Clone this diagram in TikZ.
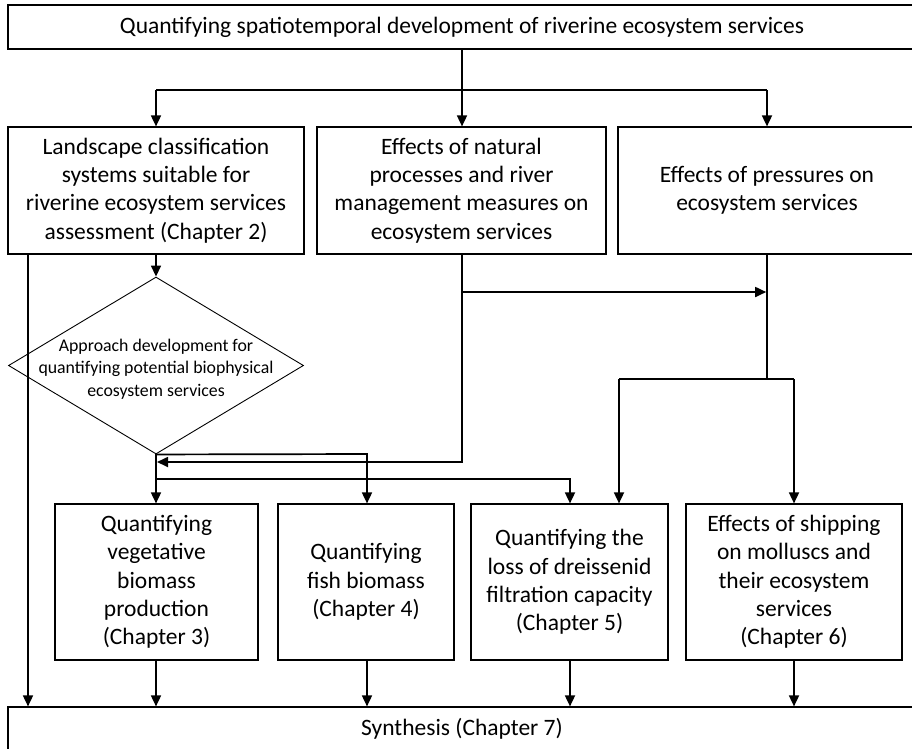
\documentclass[tikz,border=0pt]{standalone}
\usepackage{fontspec}
\setmainfont{Carlito}
\usetikzlibrary{arrows.meta,shapes.geometric}
\begin{document}
\begin{tikzpicture}[x=1pt,y=-1pt,
  box/.style={draw, line width=1.2pt, rectangle, inner sep=0pt, align=center,
    font=\fontsize{23.5}{28.3}\selectfont},
  dia/.style={draw, diamond, line width=0.9pt, inner sep=0pt,
    minimum width=295pt, minimum height=177pt},
  diatext/.style={inner sep=0pt, align=center, font=\fontsize{17.8}{22.5}\selectfont},
  conn/.style={line width=1.7pt},
  arr/.style={conn, -{Triangle[length=11pt,width=10pt]}},
]
\useasboundingbox (0,0) rectangle (912,748);
\fill[white] (0,0) rectangle (912,748);
\clip (0,0) rectangle (912,748);

\node[box, minimum width=908pt, minimum height=44pt] (top) at (462,27)
  {Quantifying spatiotemporal development of riverine ecosystem services};
\node[box, minimum width=296pt, minimum height=127pt] (b1) at (156,190.5)
  {Landscape classification\\systems suitable for\\riverine ecosystem services\\assessment (Chapter 2)};
\node[box, minimum width=289pt, minimum height=127pt] (b2) at (461.5,190.5)
  {Effects of natural\\processes and river\\management measures on\\ecosystem services};
\node[box, minimum width=298pt, minimum height=127pt] (b3) at (767,190.5)
  {Effects of pressures on\\ecosystem services};
\node[dia] (dia) at (156,365.5) {};
\node[diatext] (diatext) at (156,369)
  {Approach development for\\quantifying potential biophysical\\ecosystem services};
\node[box, minimum width=203pt, minimum height=156pt] (b4) at (156.5,582)
  {Quantifying\\vegetative\\biomass\\production\\(Chapter 3)};
\node[box, minimum width=176pt, minimum height=156pt] (b5) at (366,582)
  {Quantifying\\fish biomass\\(Chapter 4)};
\node[box, minimum width=197pt, minimum height=156pt] (b6) at (569.5,582)
  {Quantifying the\\loss of dreissenid\\filtration capacity\\(Chapter 5)};
\node[box, minimum width=216pt, minimum height=156pt] (b7) at (794,582)
  {Effects of shipping\\on molluscs and\\their ecosystem\\services\\(Chapter 6)};
\node[box, minimum width=908pt, minimum height=44pt] (synth) at (462,729)
  {Synthesis (Chapter 7)};

% top distribution
\coordinate (jt) at (462,90);
\draw[conn] (top.south -| jt) -- (jt);
\draw[conn] (b1.north |- jt) -- (b3.north |- jt);
\draw[arr] (b1.north |- jt) -- (b1.north);
\draw[arr] (jt) -- (jt |- b2.north);
\draw[arr] (b3.north |- jt) -- (b3.north);

% box 1
\draw[arr] (b1.south) -- (dia.north);
\coordinate (lft) at (28,0);
\draw[arr] (lft |- b1.south) -- (lft |- synth.north);

% box 2
\coordinate (j2) at (462,292);
\coordinate (j3) at (462,462);
\draw[arr, shorten >=1pt] (b2.south -| j3) -- (j3) -- (j3 -| dia.south);
\draw[arr, shorten >=0.8pt] (j2) -- (j2 -| b3.south);

% box 3
\coordinate (j4) at (767,379);
\coordinate (j4l) at (619,379);
\coordinate (j4r) at (794,379);
\draw[conn] (b3.south) -- (j4);
\draw[conn] (j4l) -- (j4r);
\draw[arr] (j4l) -- (j4l |- b6.north);
\draw[arr] (j4r) -- (b7.north);

% diamond outputs
\coordinate (j5) at (367,454);
\coordinate (j6) at (156,479);
\coordinate (j6r) at (570,479);
\draw[arr] (dia.south) -- (dia.south |- b4.north);
\draw[arr] (dia.south) -- (j5) -- (j5 |- b5.north);
\draw[arr] (j6) -- (j6r) -- (j6r |- b6.north);

% into synthesis
\draw[arr] (b4.south -| j6) -- (j6 |- synth.north);
\draw[arr] (b5.south -| j5) -- (j5 |- synth.north);
\draw[arr] (b6.south -| j6r) -- (j6r |- synth.north);
\draw[arr] (b7.south) -- (b7.south |- synth.north);
\end{tikzpicture}
\end{document}
